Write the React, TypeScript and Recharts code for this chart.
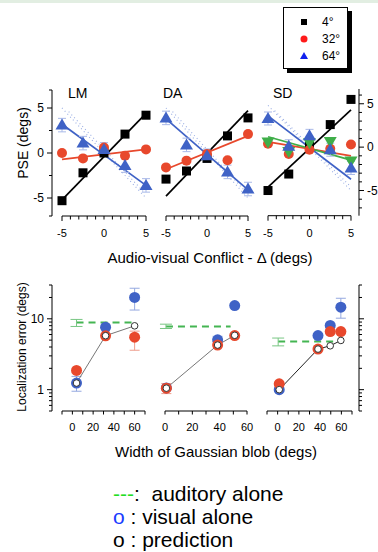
import React from 'react';
import { ComposedChart, Line, Scatter, XAxis, YAxis, ReferenceLine, ErrorBar } from 'recharts';

const FONT = '"Liberation Sans", Arial, Helvetica, sans-serif';

// ---------- top row: PSE vs audio-visual conflict ----------
const conflict = [-5, -2.5, 0, 2.5, 5];
const fitRange = [-5, 5];
const bandRangeA = [-5, 5];
const bandRangeB = [-4.2, 4.8];
const err64 = [0.75, 0.75, 0.75, 0.75, 0.75];

const lm4 = [-5.3, -2.2, 0.0, 2.1, 4.2];
const lm32 = [0.0, -0.6, 0.6, -0.3, 0.4];
const lm64 = [3.1, 1.1, 0.4, -1.4, -3.6];
const lmFit4 = [-5.2, 4.4];
const lmFit32 = [-0.7, 0.4];
const lmFit64 = [3.2, -3.6];
const lmBandA = [5.0, -5.0];
const lmBandB = [4.6, -4.4];

const da4 = [-2.9, -2.0, -0.6, 1.9, 3.9];
const da32 = [-1.6, -0.85, -0.1, -0.8, 2.1];
const da64 = [3.9, 0.9, -0.3, -2.1, -4.0];
const daFit4 = [-4.8, 4.7];
const daFit32 = [-1.8, 1.9];
const daFit64 = [3.8, -4.1];
const daBandA = [5.0, -5.0];
const daBandB = [4.6, -4.4];

const sd4 = [-5.0, -3.1, 0.4, 2.6, 5.5];
const sd32 = [0.4, -0.8, -0.3, -0.2, 0.3];
const sd64 = [3.3, 0.1, 1.3, -0.3, -2.4];
const sdExtra = [0.6, -0.5, 0.5, 0.65, -1.6];
const sdFit4 = [-4.6, 4.3];
const sdFit32 = [0.6, -1.0];
const sdFit64 = [3.6, -3.7];
const sdFitExtra = [1.2, -1.5];
const sdBandA = [4.8, -5.0];
const sdBandB = [4.2, -4.4];

const topXTicks = [-5, -4, -3, -2, -1, 0, 1, 2, 3, 4, 5];
const topXLabels = [-5, 0, 5];
const lmYTicks = [-7, -5, -2.5, 0, 2.5, 5, 7];
const sdYTicks = [-7, -6, -5, -4, -3, -2, -1, 0, 1, 2, 3, 4, 5, 6];
const pseLabels = [-5, 0, 5];

// ---------- bottom row: localization error vs blob width ----------
const lmW = [4, 32, 60];
const lmVis = [1.24, 7.6, 20];
const lmVisErr = [[0.29, 0.3], null, [6.7, 7]];
const lmBi = [1.87, 5.75, 5.5];
const lmBiErr = [null, null, [1.9, 1.2]];
const lmPred = [1.24, 5.78, 7.96];
const lmAudX = [4, 60];
const lmAud = 8.9;
const lmAudErr = [1.1, 0.9];

const daW = [1, 38.5, 51];
const daVis = [1.06, 5.06, 15.4];
const daVisErr = [null, [0.3, 0.6], null];
const daBi = [1.05, 4.26, 5.8];
const daBiErr = [[0.17, 0.17], null, null];
const daPred = [1.05, 4.26, 5.85];
const daAudX = [0.7, 48];
const daAud = 7.8;
const daAudErr = [0.5, 0.6];

const sdW = [1.5, 38, 49.5, 59.5];
const sdVis = [1.0, 5.8, 8.05, 14.6];
const sdVisErr = [null, null, null, [4.4, 4.9]];
const sdBi = [1.21, 3.74, 6.6, 6.6];
const sdBiErr = [null, null, null, null];
const sdPred = [1.0, 3.74, 4.16, 4.95];
const sdAudX = [0.5, 59.5];
const sdAud = 4.8;
const sdAudErr = [0.65, 0.55];

const logTicks = [0.5, 0.6, 0.7, 0.8, 0.9, 1, 2, 3, 4, 5, 6, 7, 8, 9, 10, 20, 30];
const logMajor = [1, 10];
const wideTicks = [-10, 0, 10, 20, 30, 40, 50, 60, 70];
const narrowTicks = [0, 10, 20, 30, 40, 50, 60];
const widthLabels = [0, 20, 40, 60];

const legendLabels = ['4°', '32°', '64°'];
const panelNames = ['LM', 'DA', 'SD'];

// ---------- colours ----------
const C_BLACK = '#000000';
const C_RED = '#e8482c';
const C_BLUE = '#3f62c6';
const C_GREEN = '#3fae49';
const C_DOT = '#9aaee4';

const pts = (xs: number[], ys: number[]) => xs.map((x, i) => ({ x, y: ys[i] }));
const ptsE = (xs: number[], ys: number[], es: any[]) =>
  xs.map((x, i) => ({ x, y: ys[i], e: es[i] == null ? undefined : es[i] }));

// ---------- shapes ----------
const squareShape = (p: any) => <rect x={p.cx - 4.5} y={p.cy - 4.5} width={9} height={9} fill={C_BLACK} />;
const circleShape = (color: string, r: number) => (p: any) => <circle cx={p.cx} cy={p.cy} r={r} fill={color} />;
const triUpShape = (p: any) => (
  <polygon points={`${p.cx},${p.cy - 6.5} ${p.cx + 6.5},${p.cy + 4.5} ${p.cx - 6.5},${p.cy + 4.5}`} fill={C_BLUE} />
);
const triDownShape = (p: any) => (
  <polygon points={`${p.cx},${p.cy + 6.5} ${p.cx + 6.5},${p.cy - 4.5} ${p.cx - 6.5},${p.cy - 4.5}`} fill={C_GREEN} />
);
const predShape = (p: any) => <circle cx={p.cx} cy={p.cy} r={3.3} fill="#fff" stroke="#333" strokeWidth={1} />;
const emptyShape = () => <g />;

// ---------- ticks ----------
function XTick(props: any) {
  const { x, y, payload, labels, dy, ends } = props;
  const v = payload.value;
  const len = ends.includes(v) ? 5 : 3.5;
  return (
    <g>
      <line x1={x} x2={x} y1={y} y2={y + len} stroke="#000" strokeWidth={1} />
      {labels.includes(v) ? (
        <text x={x} y={y + dy} textAnchor="middle" fontSize={11} fontFamily={FONT} fill="#000">
          {v}
        </text>
      ) : null}
    </g>
  );
}

function YTick(props: any) {
  const { x, y, payload, side, major, labels } = props;
  const v = payload.value;
  const len = major.includes(v) ? 5 : 3;
  const dir = side === 'right' ? 1 : -1;
  return (
    <g>
      <line x1={x} x2={x + dir * len} y1={y} y2={y} stroke="#000" strokeWidth={1} />
      {labels.includes(v) ? (
        <text
          x={x + dir * 8}
          y={y}
          dy={4}
          textAnchor={side === 'right' ? 'start' : 'end'}
          fontSize={12}
          fontFamily={FONT}
          fill="#000"
        >
          {v}
        </text>
      ) : null}
    </g>
  );
}

// ---------- generic panel ----------
function Panel(props: any) {
  const {
    box, xDomain, xTicks, xLabels, xEnds, xLabelDy, yDomain, yTicks, yMajor, yLabels,
    side, padL = 0, padR = 0, log = false, children,
  } = props;
  const W = box.r - box.l + 90;
  const H = box.b - box.t + 50;
  const right = side === 'right';
  return (
    <div style={{ position: 'absolute', left: box.l - 45, top: box.t - 10 }}>
      <ComposedChart
        width={W}
        height={H}
        margin={{ top: 10, bottom: 10, left: right ? 45 : 0, right: right ? 0 : 45 }}
      >
        <XAxis
          type="number"
          dataKey="x"
          domain={xDomain}
          ticks={xTicks}
          interval={0}
          padding={{ left: padL, right: padR }}
          height={30}
          axisLine={false}
          tickLine={false}
          tickSize={0}
          tickMargin={0}
          tick={(tp: any) => <XTick {...tp} labels={xLabels} ends={xEnds} dy={xLabelDy} />}
        />
        <YAxis
          type="number"
          dataKey="y"
          orientation={right ? 'right' : 'left'}
          width={45}
          scale={log ? 'log' : 'linear'}
          domain={yDomain}
          ticks={yTicks}
          interval={0}
          axisLine={side === 'none' ? false : { stroke: '#000', strokeWidth: 1 }}
          tickLine={false}
          tickSize={0}
          tickMargin={0}
          tick={
            side === 'none'
              ? false
              : (tp: any) => <YTick {...tp} side={right ? 'right' : 'left'} major={yMajor} labels={yLabels} />
          }
        />
        <ReferenceLine
          segment={[
            { x: xTicks[0], y: yDomain[0] },
            { x: xTicks[xTicks.length - 1], y: yDomain[0] },
          ]}
          stroke="#000"
          strokeWidth={1}
          ifOverflow="visible"
        />
        {children}
      </ComposedChart>
    </div>
  );
}

function topSeries(k: string, sq: number[], ci: number[], tr: number[], f4: number[], f32: number[], f64: number[], bA: number[], bB: number[], extra?: number[], fExtra?: number[]) {
  const items: any[] = [
    <Line key={k + 'bA'} data={pts(bandRangeA, bA)} dataKey="y" stroke={C_DOT} strokeWidth={1.1} strokeDasharray="1 3" dot={false} activeDot={false} isAnimationActive={false} />,
    <Line key={k + 'bB'} data={pts(bandRangeB, bB)} dataKey="y" stroke={C_DOT} strokeWidth={1.1} strokeDasharray="1 3" dot={false} activeDot={false} isAnimationActive={false} />,
    <Line key={k + 'f4'} data={pts(fitRange, f4)} dataKey="y" stroke={C_BLACK} strokeWidth={1.7} dot={false} activeDot={false} isAnimationActive={false} />,
    <Line key={k + 'f32'} data={pts(fitRange, f32)} dataKey="y" stroke={C_RED} strokeWidth={1.7} dot={false} activeDot={false} isAnimationActive={false} />,
    <Line key={k + 'f64'} data={pts(fitRange, f64)} dataKey="y" stroke={C_BLUE} strokeWidth={1.7} dot={false} activeDot={false} isAnimationActive={false} />,
  ];
  if (extra && fExtra) {
    items.push(
      <Line key={k + 'fx'} data={pts(fitRange, fExtra)} dataKey="y" stroke={C_GREEN} strokeWidth={1.7} dot={false} activeDot={false} isAnimationActive={false} />
    );
  }
  items.push(
    <Scatter key={k + 's4'} data={pts(conflict, sq)} dataKey="y" shape={squareShape} isAnimationActive={false} />,
    <Scatter key={k + 's32'} data={pts(conflict, ci)} dataKey="y" shape={circleShape(C_RED, 5)} isAnimationActive={false} />
  );
  if (extra) {
    items.push(
      <Scatter key={k + 'sx'} data={pts(conflict, extra)} dataKey="y" shape={triDownShape} isAnimationActive={false} />
    );
  }
  items.push(
    <Scatter key={k + 's64'} data={ptsE(conflict, tr, err64)} dataKey="y" shape={triUpShape} isAnimationActive={false}>
      <ErrorBar dataKey="e" direction="y" width={4} stroke="#a9b9e8" strokeWidth={1} />
    </Scatter>
  );
  return items;
}

function bottomSeries(k: string, w: number[], vis: number[], visErr: any[], bi: number[], biErr: any[], pred: number[], audX: number[], aud: number, audErr: number[], predColor: string) {
  return [
    <Line key={k + 'aud'} data={pts(audX, [aud, aud])} dataKey="y" stroke="#44b552" strokeWidth={2} strokeDasharray="7 5" dot={false} activeDot={false} isAnimationActive={false} />,
    <Scatter key={k + 'audE'} data={[{ x: audX[0], y: aud, e: audErr }]} dataKey="y" shape={emptyShape} isAnimationActive={false}>
      <ErrorBar dataKey="e" direction="y" width={6} stroke="#78c683" strokeWidth={1} />
    </Scatter>,
    <Scatter key={k + 'vis'} data={ptsE(w, vis, visErr)} dataKey="y" shape={circleShape(C_BLUE, 5.5)} isAnimationActive={false}>
      <ErrorBar dataKey="e" direction="y" width={5} stroke="#94a8e0" strokeWidth={1} />
    </Scatter>,
    <Scatter key={k + 'bi'} data={ptsE(w, bi, biErr)} dataKey="y" shape={circleShape(C_RED, 5.5)} isAnimationActive={false}>
      <ErrorBar dataKey="e" direction="y" width={5} stroke="#ee9d8c" strokeWidth={1} />
    </Scatter>,
    <Line key={k + 'pl'} data={pts(w, pred)} dataKey="y" stroke={predColor} strokeWidth={1} dot={false} activeDot={false} isAnimationActive={false} />,
    <Scatter key={k + 'pp'} data={pts(w, pred)} dataKey="y" shape={predShape} isAnimationActive={false} />,
  ];
}

const txt = (extra: any): any => ({ position: 'absolute', fontFamily: FONT, color: '#000', whiteSpace: 'pre', ...extra });

export default function App() {
  const topBoxLM = { l: 52, r: 146, t: 90, b: 216 };
  const topBoxDA = { l: 166, r: 248, t: 90, b: 216 };
  const topBoxSD = { l: 268, r: 359, t: 89.3, b: 216 };
  const botBox1 = { l: 52, r: 145, t: 285, b: 411 };
  const botBox2 = { l: 165, r: 247, t: 285, b: 411 };
  const botBox3 = { l: 267, r: 359, t: 285, b: 411 };

  return (
    <div style={{ position: 'absolute', left: 0, top: 0, width: 378, height: 552, background: '#fff', overflow: 'hidden' }}>
      <div style={{ position: 'absolute', left: 0, top: 0, width: 378, height: 3, background: '#e2eee2' }} />

      {/* legend box top right */}
      <div style={{ position: 'absolute', left: 283, top: 7, width: 63, height: 60, border: '1px solid #000', background: '#fff', boxShadow: '4px 4px 0 #000' }} />
      <svg style={{ position: 'absolute', left: 0, top: 0 }} width={378} height={80}>
        <rect x={301} y={19} width={6} height={6} fill="#000" />
        <circle cx={304} cy={39} r={3.5} fill="#ff1a1a" />
        <polygon points="304,52 308,59 300,59" fill="#1020ee" />
      </svg>
      {legendLabels.map((s, i) => (
        <div key={s} style={txt({ left: 322, top: 14 + i * 17, fontSize: 12, lineHeight: '16px' })}>{s}</div>
      ))}

      {/* top row */}
      <Panel box={topBoxLM} xDomain={[-5, 5]} xTicks={topXTicks} xLabels={topXLabels} xEnds={[-5, 5]} xLabelDy={21} yDomain={[-7, 7]} yTicks={lmYTicks} yMajor={[-5, 0, 5]} yLabels={pseLabels} side="left" padL={10}>
        {topSeries('lm', lm4, lm32, lm64, lmFit4, lmFit32, lmFit64, lmBandA, lmBandB)}
      </Panel>
      <Panel box={topBoxDA} xDomain={[-5, 5]} xTicks={topXTicks} xLabels={topXLabels} xEnds={[-5, 5]} xLabelDy={21} yDomain={[-7, 7]} yTicks={lmYTicks} yMajor={[]} yLabels={[]} side="none">
        {topSeries('da', da4, da32, da64, daFit4, daFit32, daFit64, daBandA, daBandB)}
      </Panel>
      <Panel box={topBoxSD} xDomain={[-5, 5]} xTicks={topXTicks} xLabels={topXLabels} xEnds={[-5, 5]} xLabelDy={21} yDomain={[-7.9, 6.7]} yTicks={sdYTicks} yMajor={[-5, 0, 5]} yLabels={pseLabels} side="right" padR={8}>
        {topSeries('sd', sd4, sd32, sd64, sdFit4, sdFit32, sdFit64, sdBandA, sdBandB, sdExtra, sdFitExtra)}
      </Panel>

      {/* bottom row */}
      <Panel box={botBox1} xDomain={[-10, 70]} xTicks={wideTicks} xLabels={widthLabels} xEnds={[]} xLabelDy={20} yDomain={[0.5, 30]} yTicks={logTicks} yMajor={logMajor} yLabels={logMajor} side="left" padL={10} log>
        {bottomSeries('b1', lmW, lmVis, lmVisErr, lmBi, lmBiErr, lmPred, lmAudX, lmAud, lmAudErr, '#777')}
      </Panel>
      <Panel box={botBox2} xDomain={[0, 60]} xTicks={narrowTicks} xLabels={widthLabels} xEnds={[]} xLabelDy={20} yDomain={[0.5, 30]} yTicks={logTicks} yMajor={[]} yLabels={[]} side="none" log>
        {bottomSeries('b2', daW, daVis, daVisErr, daBi, daBiErr, daPred, daAudX, daAud, daAudErr, '#777')}
      </Panel>
      <Panel box={botBox3} xDomain={[-10, 70]} xTicks={wideTicks} xLabels={widthLabels} xEnds={[]} xLabelDy={20} yDomain={[0.5, 30]} yTicks={logTicks} yMajor={logMajor} yLabels={[]} side="right" padR={7} log>
        {bottomSeries('b3', sdW, sdVis, sdVisErr, sdBi, sdBiErr, sdPred, sdAudX, sdAud, sdAudErr, '#222')}
      </Panel>

      {/* panel names */}
      {panelNames.map((n, i) => (
        <div key={n} style={txt({ left: [68, 163, 273][i], top: 85, fontSize: 14, lineHeight: '16px' })}>{n}</div>
      ))}

      {/* axis titles */}
      <div style={txt({ left: 60, width: 300, top: 249, fontSize: 15, lineHeight: '18px', textAlign: 'center' })}>
        Audio-visual Conflict - Δ (degs)
      </div>
      <div style={txt({ left: 66, width: 300, top: 443, fontSize: 15, lineHeight: '18px', textAlign: 'center' })}>
        Width of Gaussian blob (degs)
      </div>
      <div style={txt({ left: 23 - 100, width: 200, top: 143 - 9, fontSize: 14, lineHeight: '18px', textAlign: 'center', transform: 'rotate(-90deg)' })}>
        PSE (degs)
      </div>
      <div style={txt({ left: 22 - 100, width: 200, top: 347 - 8, fontSize: 12, lineHeight: '16px', textAlign: 'center', transform: 'rotate(-90deg)' })}>
        Localization error (degs)
      </div>

      {/* bottom text legend */}
      <div style={txt({ left: 113, top: 482, fontSize: 21, lineHeight: '23px' })}>
        <span style={{ color: '#22dd22' }}>---</span>{':  auditory alone'}
      </div>
      <div style={txt({ left: 113, top: 505, fontSize: 21, lineHeight: '23px' })}>
        <span style={{ color: '#1a3cff' }}>o</span>{' : visual alone'}
      </div>
      <div style={txt({ left: 113, top: 528, fontSize: 21, lineHeight: '23px' })}>
        {'o : prediction'}
      </div>
    </div>
  );
}
